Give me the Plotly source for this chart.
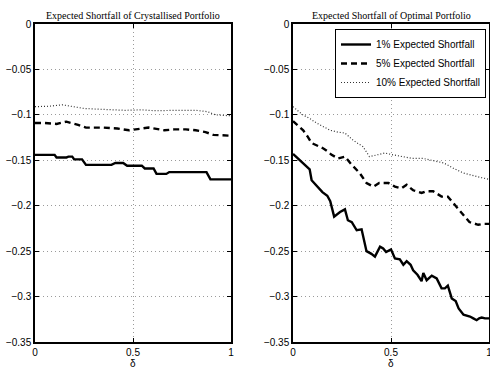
import plotly.graph_objects as go

# ---- data ----
left_es1_x = [0, 0.10, 0.11, 0.16, 0.17, 0.19, 0.20, 0.24, 0.26, 0.39, 0.41, 0.45, 0.47, 0.545, 0.56, 0.605, 0.62, 0.67, 0.685, 0.875, 0.895, 1.0]
left_es1_y = [-0.144, -0.144, -0.147, -0.147, -0.146, -0.146, -0.149, -0.149, -0.155, -0.155, -0.153, -0.153, -0.156, -0.156, -0.159, -0.159, -0.165, -0.165, -0.163, -0.163, -0.171, -0.171]

left_es5_x = [0, 0.05, 0.11, 0.16, 0.22, 0.26, 0.35, 0.42, 0.48, 0.54, 0.58, 0.66, 0.71, 0.77, 0.82, 0.87, 0.91, 1.0]
left_es5_y = [-0.109, -0.109, -0.110, -0.1075, -0.111, -0.114, -0.114, -0.115, -0.117, -0.115, -0.114, -0.117, -0.116, -0.116, -0.117, -0.119, -0.122, -0.123]

left_es10_x = [0, 0.07, 0.14, 0.20, 0.25, 0.35, 0.46, 0.54, 0.62, 0.71, 0.82, 0.88, 0.92, 1.0]
left_es10_y = [-0.091, -0.0905, -0.089, -0.091, -0.093, -0.094, -0.095, -0.0945, -0.0955, -0.095, -0.095, -0.0965, -0.100, -0.101]

right_es1_x = [0, 0.03, 0.06, 0.075, 0.085, 0.095, 0.12, 0.15, 0.175, 0.19, 0.21, 0.24, 0.265, 0.28, 0.30, 0.325, 0.35, 0.375, 0.40, 0.418, 0.444, 0.46, 0.475, 0.50, 0.52, 0.545, 0.563, 0.58, 0.60, 0.613, 0.635, 0.656, 0.665, 0.682, 0.708, 0.733, 0.758, 0.775, 0.79, 0.81, 0.83, 0.845, 0.87, 0.89, 0.903, 0.92, 0.937, 0.95, 0.963, 0.98, 1.0]
right_es1_y = [-0.143, -0.149, -0.155, -0.158, -0.160, -0.172, -0.178, -0.185, -0.189, -0.195, -0.212, -0.207, -0.204, -0.216, -0.218, -0.227, -0.226, -0.250, -0.253, -0.256, -0.245, -0.247, -0.251, -0.248, -0.258, -0.259, -0.265, -0.261, -0.265, -0.271, -0.276, -0.283, -0.274, -0.282, -0.277, -0.280, -0.291, -0.291, -0.288, -0.302, -0.305, -0.313, -0.320, -0.321, -0.322, -0.324, -0.326, -0.324, -0.323, -0.324, -0.324]

right_es5_x = [0, 0.025, 0.052, 0.075, 0.095, 0.125, 0.155, 0.175, 0.197, 0.23, 0.265, 0.30, 0.34, 0.375, 0.41, 0.44, 0.487, 0.52, 0.553, 0.58, 0.613, 0.656, 0.68, 0.715, 0.758, 0.79, 0.818, 0.845, 0.87, 0.90, 0.945, 0.97, 1.0]
right_es5_y = [-0.107, -0.112, -0.117, -0.124, -0.131, -0.134, -0.137, -0.140, -0.144, -0.148, -0.146, -0.155, -0.164, -0.175, -0.179, -0.175, -0.175, -0.179, -0.181, -0.177, -0.183, -0.186, -0.184, -0.184, -0.190, -0.190, -0.197, -0.203, -0.210, -0.218, -0.221, -0.220, -0.220]

right_es10_x = [0, 0.05, 0.085, 0.12, 0.155, 0.19, 0.23, 0.265, 0.307, 0.357, 0.39, 0.425, 0.469, 0.51, 0.56, 0.61, 0.665, 0.715, 0.77, 0.82, 0.87, 0.94, 1.0]
right_es10_y = [-0.091, -0.100, -0.104, -0.109, -0.113, -0.117, -0.119, -0.120, -0.128, -0.135, -0.146, -0.144, -0.142, -0.144, -0.146, -0.148, -0.148, -0.150, -0.153, -0.159, -0.164, -0.168, -0.171]

y_tickvals = [0, -0.05, -0.1, -0.15, -0.2, -0.25, -0.3, -0.35]
y_ticktext = ["0", "\u22120.05", "\u22120.1", "\u22120.15", "\u22120.2", "\u22120.25", "\u22120.3", "\u22120.35"]
x_tickvals = [0, 0.5, 1]
x_ticktext = ["0", "0.5", "1"]

titles = ["Expected Shortfall of Crystallised Portfolio", "Expected Shortfall of Optimal Portfolio"]
legend_names = ["1% Expected Shortfall", "5% Expected Shortfall", "10% Expected Shortfall"]

W, H = 490, 369
fig = go.Figure()

styles = [dict(color="black", width=2.4, dash="solid"),
          dict(color="black", width=2.4, dash="6px,4px"),
          dict(color="#333333", width=1.2, dash="1px,2px")]

left = [(left_es1_x, left_es1_y), (left_es5_x, left_es5_y), (left_es10_x, left_es10_y)]
right = [(right_es1_x, right_es1_y), (right_es5_x, right_es5_y), (right_es10_x, right_es10_y)]

for i, (x, y) in enumerate(left):
    fig.add_trace(go.Scatter(x=x, y=y, mode="lines", line=styles[i], xaxis="x", yaxis="y", showlegend=False))
for i, (x, y) in enumerate(right):
    fig.add_trace(go.Scatter(x=x, y=y, mode="lines", line=styles[i], xaxis="x2", yaxis="y2",
                             name=legend_names[i], showlegend=True))

ydom = [(H - 342) / H, (H - 24) / H]
xdom1 = [35 / W, 231 / W]
xdom2 = [293 / W, 489 / W]

axis_common = dict(showline=True, linecolor="black", linewidth=1.5, mirror="ticks", ticks="inside",
                   ticklen=4, tickcolor="black", showgrid=True, gridcolor="#9a9a9a", griddash="1px,3px",
                   gridwidth=1, zeroline=False, tickfont=dict(family="Liberation Sans, Arial", size=10, color="black"),
                   automargin=False, ticklabeloverflow="allow")

fig.update_layout(
    width=W, height=H,
    margin=dict(l=0, r=0, t=0, b=0),
    paper_bgcolor="white", plot_bgcolor="white",
    xaxis=dict(domain=xdom1, range=[0, 1], tickvals=x_tickvals, ticktext=x_ticktext, anchor="y", **axis_common),
    yaxis=dict(domain=ydom, range=[-0.35, 0], tickvals=y_tickvals, ticktext=y_ticktext, anchor="x", **axis_common),
    xaxis2=dict(domain=xdom2, range=[0, 1], tickvals=x_tickvals, ticktext=x_ticktext, anchor="y2", **axis_common),
    yaxis2=dict(domain=ydom, range=[-0.35, 0], tickvals=y_tickvals, ticktext=y_ticktext, anchor="x2", **axis_common),
    legend=dict(x=486 / W, y=1 - 29 / H, xanchor="right", yanchor="top",
                bordercolor="black", borderwidth=1, bgcolor="white",
                font=dict(family="Liberation Sans, Arial", size=10, color="black"),
                tracegroupgap=0, itemwidth=30),
    showlegend=True,
)

centers = [(xdom1[0] + xdom1[1]) / 2, (xdom2[0] + xdom2[1]) / 2]
for c, t in zip(centers, titles):
    fig.add_annotation(x=c, y=1 - 15 / H, xref="paper", yref="paper", text=t, showarrow=False,
                       font=dict(family="Liberation Serif, Times New Roman", size=10, color="black"),
                       xanchor="center", yanchor="middle")
    fig.add_annotation(x=c, y=1 - 363 / H, xref="paper", yref="paper", text="\u03b4", showarrow=False,
                       font=dict(family="Liberation Sans, Arial", size=10, color="black"),
                       xanchor="center", yanchor="middle")

fig.write_html("out.html", config={"displayModeBar": False},
               post_script="document.body.style.margin='0';document.body.style.overflow='hidden';")
